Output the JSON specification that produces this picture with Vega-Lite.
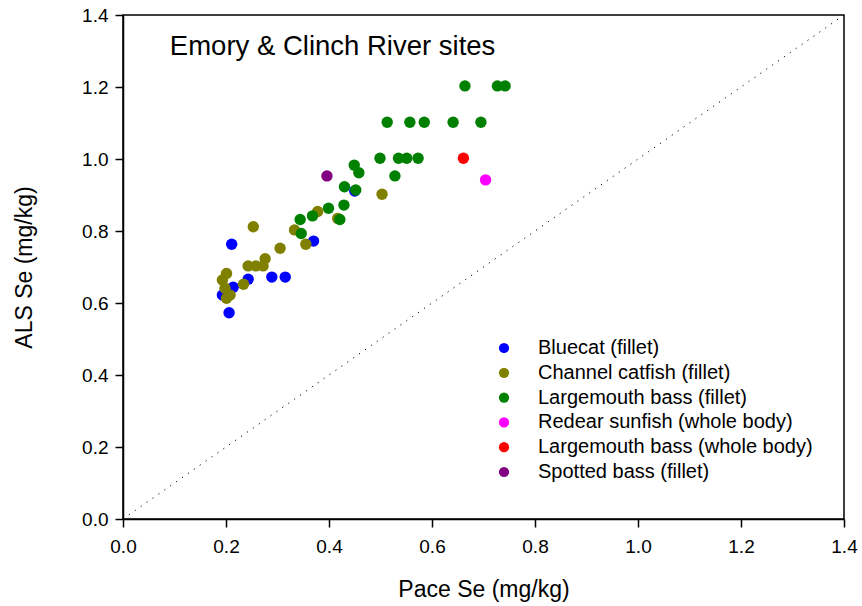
{
  "$schema": "https://vega.github.io/schema/vega-lite/v6.json",
  "width": 721,
  "height": 504,
  "autosize": {"type": "none"},
  "padding": {"left": 123, "top": 15, "right": 18, "bottom": 87},
  "background": "white",
  "config": {
    "font": "Liberation Sans",
    "view": {"stroke": "black", "strokeWidth": 1.5},
    "axis": {
      "domainColor": "black",
      "domainWidth": 1.5,
      "tickColor": "black",
      "tickWidth": 1.5,
      "tickSize": 8,
      "labelColor": "black",
      "labelFontSize": 19,
      "labelFlush": false,
      "titleColor": "black",
      "titleFontSize": 23,
      "titleFontWeight": "normal",
      "grid": false
    }
  },
  "datasets": {
    "fish": [
      {"species": "Bluecat (fillet)", "pace": 0.211, "als": 0.763},
      {"species": "Bluecat (fillet)", "pace": 0.206, "als": 0.573},
      {"species": "Bluecat (fillet)", "pace": 0.243, "als": 0.666},
      {"species": "Bluecat (fillet)", "pace": 0.289, "als": 0.672},
      {"species": "Bluecat (fillet)", "pace": 0.315, "als": 0.672},
      {"species": "Bluecat (fillet)", "pace": 0.370, "als": 0.772},
      {"species": "Bluecat (fillet)", "pace": 0.214, "als": 0.644},
      {"species": "Bluecat (fillet)", "pace": 0.193, "als": 0.622},
      {"species": "Bluecat (fillet)", "pace": 0.450, "als": 0.911},
      {"species": "Channel catfish (fillet)", "pace": 0.253, "als": 0.812},
      {"species": "Channel catfish (fillet)", "pace": 0.305, "als": 0.752},
      {"species": "Channel catfish (fillet)", "pace": 0.276, "als": 0.723},
      {"species": "Channel catfish (fillet)", "pace": 0.243, "als": 0.703},
      {"species": "Channel catfish (fillet)", "pace": 0.258, "als": 0.703},
      {"species": "Channel catfish (fillet)", "pace": 0.272, "als": 0.703},
      {"species": "Channel catfish (fillet)", "pace": 0.234, "als": 0.652},
      {"species": "Channel catfish (fillet)", "pace": 0.201, "als": 0.682},
      {"species": "Channel catfish (fillet)", "pace": 0.193, "als": 0.664},
      {"species": "Channel catfish (fillet)", "pace": 0.198, "als": 0.641},
      {"species": "Channel catfish (fillet)", "pace": 0.201, "als": 0.613},
      {"species": "Channel catfish (fillet)", "pace": 0.208, "als": 0.622},
      {"species": "Channel catfish (fillet)", "pace": 0.333, "als": 0.803},
      {"species": "Channel catfish (fillet)", "pace": 0.378, "als": 0.854},
      {"species": "Channel catfish (fillet)", "pace": 0.355, "als": 0.763},
      {"species": "Channel catfish (fillet)", "pace": 0.503, "als": 0.902},
      {"species": "Channel catfish (fillet)", "pace": 0.417, "als": 0.835},
      {"species": "Largemouth bass (fillet)", "pace": 0.664, "als": 1.203},
      {"species": "Largemouth bass (fillet)", "pace": 0.727, "als": 1.203},
      {"species": "Largemouth bass (fillet)", "pace": 0.742, "als": 1.203},
      {"species": "Largemouth bass (fillet)", "pace": 0.513, "als": 1.102},
      {"species": "Largemouth bass (fillet)", "pace": 0.557, "als": 1.102},
      {"species": "Largemouth bass (fillet)", "pace": 0.585, "als": 1.102},
      {"species": "Largemouth bass (fillet)", "pace": 0.641, "als": 1.102},
      {"species": "Largemouth bass (fillet)", "pace": 0.695, "als": 1.102},
      {"species": "Largemouth bass (fillet)", "pace": 0.499, "als": 1.002},
      {"species": "Largemouth bass (fillet)", "pace": 0.535, "als": 1.002},
      {"species": "Largemouth bass (fillet)", "pace": 0.551, "als": 1.002},
      {"species": "Largemouth bass (fillet)", "pace": 0.573, "als": 1.002},
      {"species": "Largemouth bass (fillet)", "pace": 0.449, "als": 0.983},
      {"species": "Largemouth bass (fillet)", "pace": 0.458, "als": 0.962},
      {"species": "Largemouth bass (fillet)", "pace": 0.528, "als": 0.953},
      {"species": "Largemouth bass (fillet)", "pace": 0.430, "als": 0.923},
      {"species": "Largemouth bass (fillet)", "pace": 0.452, "als": 0.914},
      {"species": "Largemouth bass (fillet)", "pace": 0.399, "als": 0.863},
      {"species": "Largemouth bass (fillet)", "pace": 0.429, "als": 0.872},
      {"species": "Largemouth bass (fillet)", "pace": 0.421, "als": 0.832},
      {"species": "Largemouth bass (fillet)", "pace": 0.344, "als": 0.832},
      {"species": "Largemouth bass (fillet)", "pace": 0.368, "als": 0.842},
      {"species": "Largemouth bass (fillet)", "pace": 0.346, "als": 0.793},
      {"species": "Redear sunfish (whole body)", "pace": 0.704, "als": 0.942},
      {"species": "Largemouth bass (whole body)", "pace": 0.661, "als": 1.002},
      {"species": "Spotted bass (fillet)", "pace": 0.396, "als": 0.953}
    ],
    "diag": [{"pace": 0, "als": 0}, {"pace": 1.4, "als": 1.4}],
    "label": [{"pace": 0.091, "als": 1.31, "text": "Emory & Clinch River sites"}]
  },
  "layer": [
    {
      "data": {"name": "diag"},
      "mark": {"type": "line", "color": "black", "strokeWidth": 1, "strokeDash": [1.2, 6], "clip": true},
      "encoding": {
        "x": {"field": "pace", "type": "quantitative", "scale": {"domain": [0, 1.4], "nice": false, "zero": false},
          "axis": {"values": [0, 0.2, 0.4, 0.6, 0.8, 1.0, 1.2, 1.4], "format": ".1f", "title": "Pace Se (mg/kg)", "labelPadding": 10, "titlePadding": 22}},
        "y": {"field": "als", "type": "quantitative", "scale": {"domain": [0, 1.4], "nice": false, "zero": false},
          "axis": {"values": [0, 0.2, 0.4, 0.6, 0.8, 1.0, 1.2, 1.4], "format": ".1f", "title": "ALS Se (mg/kg)", "labelPadding": 7, "titlePadding": 45}}
      }
    },
    {
      "data": {"name": "fish"},
      "mark": {"type": "point", "shape": "circle", "filled": true, "opacity": 1, "size": 130},
      "encoding": {
        "x": {"field": "pace", "type": "quantitative"},
        "y": {"field": "als", "type": "quantitative"},
        "color": {
          "field": "species",
          "type": "nominal",
          "scale": {
            "domain": ["Bluecat (fillet)", "Channel catfish (fillet)", "Largemouth bass (fillet)", "Redear sunfish (whole body)", "Largemouth bass (whole body)", "Spotted bass (fillet)"],
            "range": ["#0000FF", "#808000", "#008000", "#FF00FF", "#FF0000", "#800080"]
          },
          "legend": {
            "title": null,
            "orient": "none",
            "legendX": 371,
            "legendY": 323,
            "symbolType": "circle",
            "symbolSize": 105,
            "symbolStrokeWidth": 0,
            "labelFontSize": 20,
            "labelColor": "black",
            "labelOffset": 24,
            "rowPadding": 4.8,
            "padding": 0,
            "labelLimit": 400
          }
        }
      }
    },
    {
      "data": {"name": "label"},
      "mark": {"type": "text", "align": "left", "baseline": "middle", "fontSize": 27.5, "color": "black"},
      "encoding": {
        "x": {"field": "pace", "type": "quantitative"},
        "y": {"field": "als", "type": "quantitative"},
        "text": {"field": "text"}
      }
    }
  ]
}
